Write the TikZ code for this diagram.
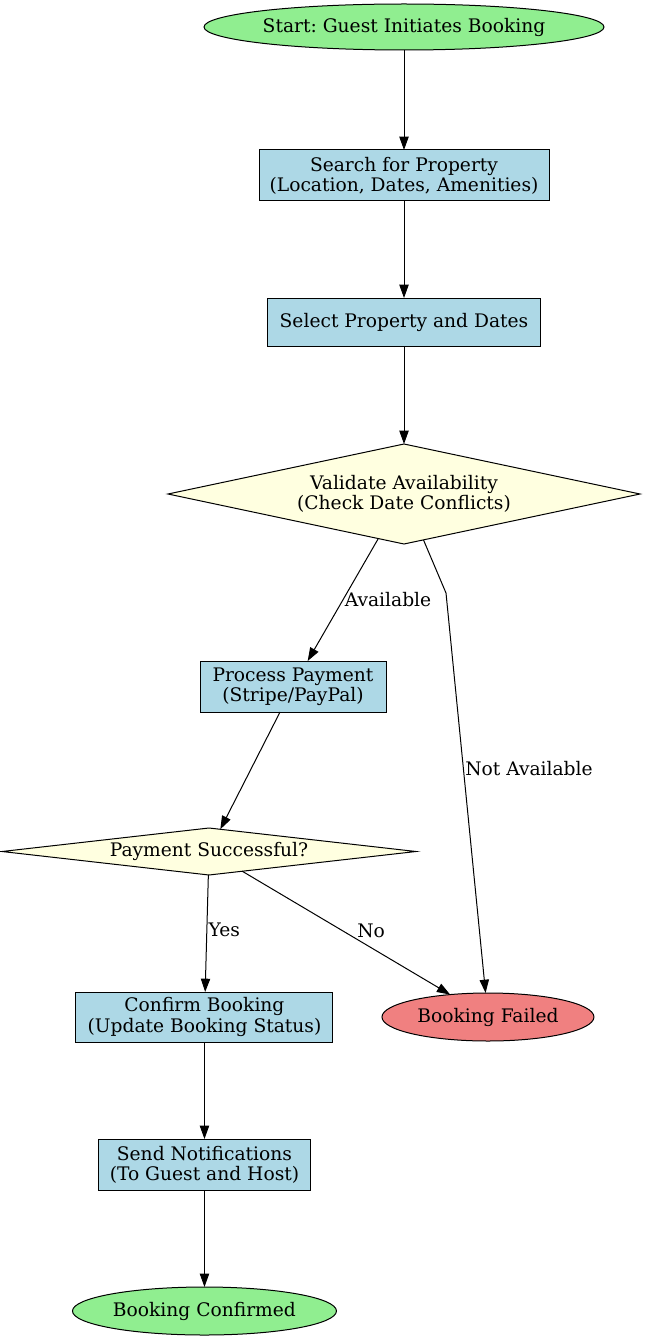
\documentclass[tikz,border=0pt]{standalone}
\usepackage{fontspec}
\setmainfont{DejaVu Serif}
\usetikzlibrary{arrows.meta,positioning,shapes.geometric}
\definecolor{termGreen}{HTML}{90EE90}
\definecolor{stepBlue}{HTML}{ADD8E6}
\definecolor{checkYellow}{HTML}{FFFFE0}
\definecolor{failRed}{HTML}{F08080}

\begin{document}
\frenchspacing
\begin{tikzpicture}[
  every node/.style={font=\fontsize{14}{15.2}\selectfont},
  proc/.style={draw,line width=0.75pt,outer sep=0pt,rectangle,fill=stepBlue,align=center,inner sep=0pt,minimum height=38.25pt},
  term/.style={draw,line width=0.75pt,outer sep=0pt,ellipse,inner sep=0pt,minimum height=34.5pt},
  dec/.style={draw,line width=0.75pt,outer sep=0pt,diamond,fill=checkYellow,align=center,inner sep=0pt},
  lbl/.style={inner sep=1pt},
  arr/.style={-{Triangle[length=10pt,width=7pt]},line width=0.75pt}]
  \useasboundingbox (0,0) rectangle (483.75pt,-1005.75pt);
  \node[term,fill=termGreen,minimum width=300pt] (start) at (303pt,-20.25pt) {Start: Guest Initiates Booking};
  \node[proc,minimum width=217.5pt,below=75pt of start] (search) {Search for Property\\(Location, Dates, Amenities)};
  \node[proc,minimum width=204.75pt,minimum height=36pt,below=72.75pt of search] (select) {Select Property and Dates};
  \node[dec,aspect=4.7,minimum width=354pt,minimum height=75pt,below=73.5pt of select] (validate) {Validate Availability\\(Check Date Conflicts)};
  \node[proc,minimum width=139.5pt,below=87.75pt of validate,xshift=-83.25pt] (process) {Process Payment\\(Stripe/PayPal)};
  \node[dec,aspect=8.8,minimum width=310.5pt,minimum height=35.25pt,below=87pt of process,xshift=-63pt] (payment) {Payment Successful?};
  \node[proc,minimum width=192.75pt,minimum height=37.5pt,below=87.75pt of payment,xshift=-3.4pt] (confirm) {Confirm Booking\\(Update Booking Status)};
  \node[term,fill=failRed,minimum width=159pt,minimum height=36pt,right=36.75pt of confirm] (failed) {Booking Failed};
  \node[proc,minimum width=159pt,below=72.75pt of confirm] (send) {Send Notifications\\(To Guest and Host)};
  \node[term,fill=termGreen,minimum width=198pt,minimum height=36pt,below=72.75pt of send] (done) {Booking Confirmed};
  \coordinate (bend) at (334.5pt,-444.75pt);
  % main path
  \draw[arr] (start) -- (search);
  \draw[arr] (search) -- (select);
  \draw[arr] (select) -- (validate);
  \draw[arr] (validate) -- node[lbl,pos=0.5,anchor=west]{Available} (process);
  \draw[arr] (validate) -- (bend) -- node[lbl,pos=0.44,anchor=west]{Not Available} (failed);
  \draw[arr] (process) -- (payment);
  \draw[arr] (payment) -- node[lbl,pos=0.47,anchor=west]{Yes} (confirm);
  \draw[arr] (payment) -- node[lbl,pos=0.62,above=6pt]{No} (failed);
  \draw[arr] (confirm) -- (send);
  \draw[arr] (send) -- (done);
\end{tikzpicture}
\end{document}
